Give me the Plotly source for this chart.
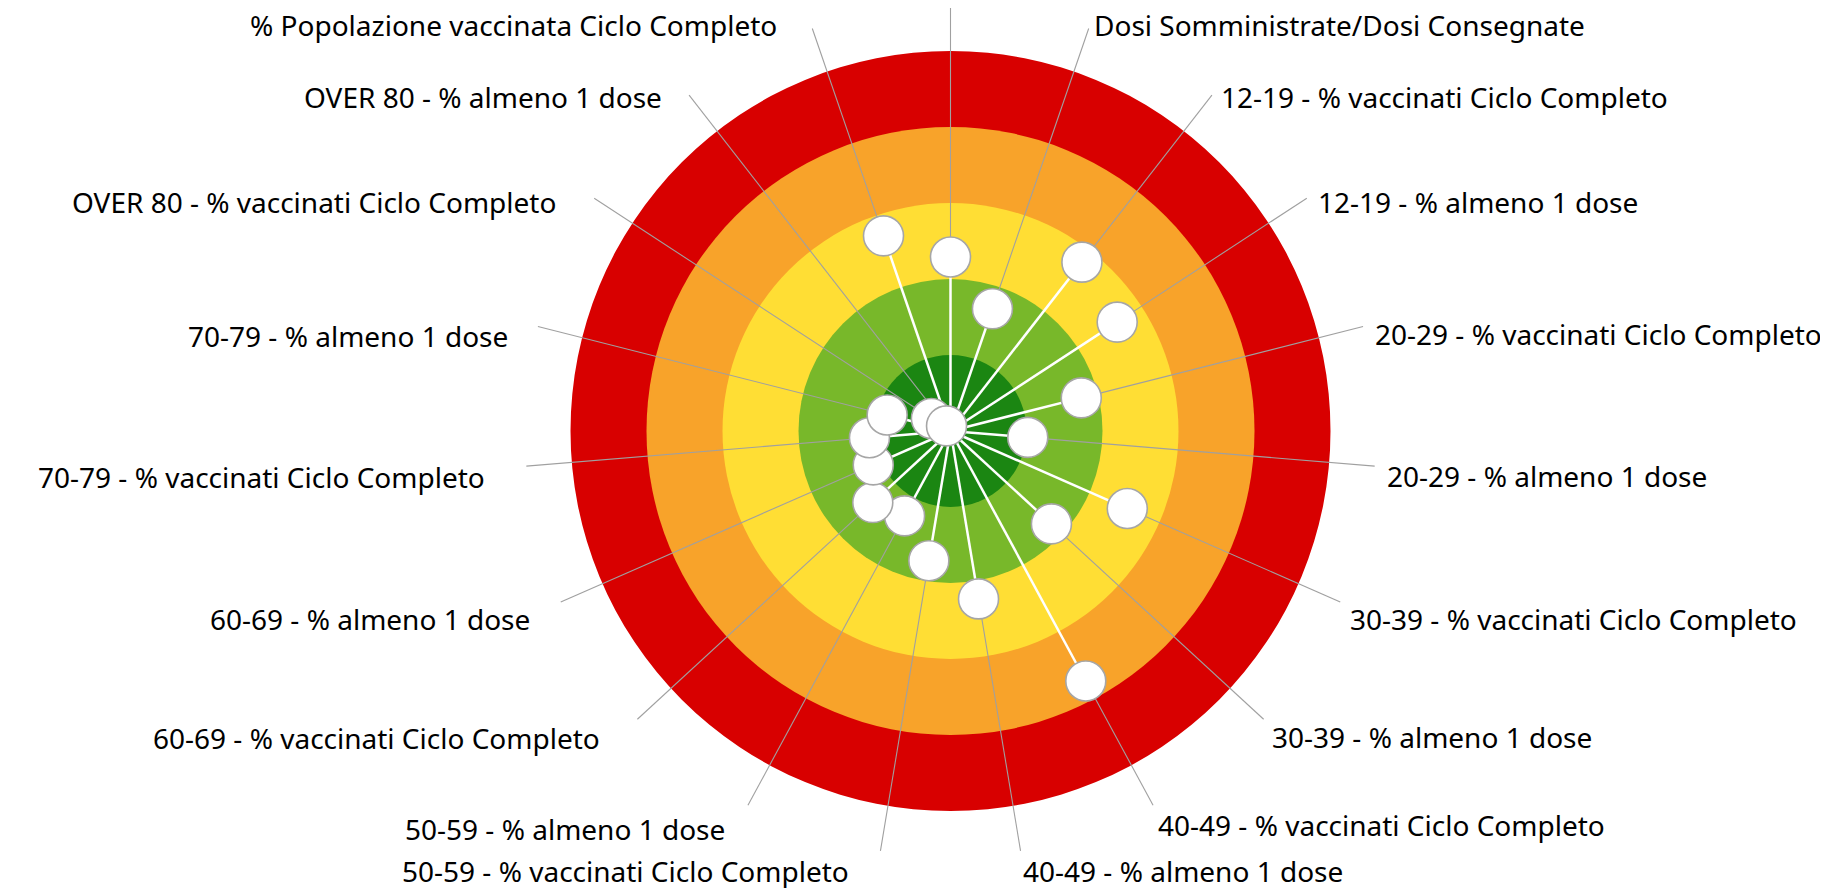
import numpy as np
import plotly.graph_objects as go

# categories clockwise from the top (the first spoke has no visible label)
labels = [
    "",
    "Dosi Somministrate/Dosi Consegnate",
    "12-19 - % vaccinati Ciclo Completo",
    "12-19 - % almeno 1 dose",
    "20-29 - % vaccinati Ciclo Completo",
    "20-29 - % almeno 1 dose",
    "30-39 - % vaccinati Ciclo Completo",
    "30-39 - % almeno 1 dose",
    "40-49 - % vaccinati Ciclo Completo",
    "40-49 - % almeno 1 dose",
    "50-59 - % vaccinati Ciclo Completo",
    "50-59 - % almeno 1 dose",
    "60-69 - % vaccinati Ciclo Completo",
    "60-69 - % almeno 1 dose",
    "70-79 - % vaccinati Ciclo Completo",
    "70-79 - % almeno 1 dose",
    "OVER 80 - % vaccinati Ciclo Completo",
    "OVER 80 - % almeno 1 dose",
    "% Popolazione vaccinata Ciclo Completo",
]
values = [45.8, 34.0, 56.3, 52.4, 35.5, 20.4, 50.8, 36.1, 74.8, 44.8,
          34.6, 25.4, 27.8, 22.2, 21.4, 17.2, 6.0, 1.7, 54.3]

# background rings (outer edge of each band)
band_edges = [100, 80, 60, 40, 20]
band_colors = ["#D80000", "#F8A32A", "#FFDE34", "#78B82A", "#1B8612"]

# label placement: pixel offset of the text from the end of its leader line
label_dx = [0, 4, 8, 10, 11, 11, 9, 7, 4, 1,
            -30, -22, -36, -30, -40, -29, -37, -26, -34]
label_dy = [0, -3, 2, 4, 7, 10, 17, 18, 20, 20,
            20, 24, 19, 17, 11, 9, 4, 2, -3]

W, H = 1828, 888
PAGE_PAD = 8          # the page body margin shifts the figure
CX, CY = 950.5 - PAGE_PAD, 431 - PAGE_PAD   # chart centre in figure pixels
PX = 3.8              # pixels per radial unit (100 -> 380 px)
LEAD_R = 112          # leader lines end a bit outside the red ring

n = len(values)
theta = np.radians(np.arange(n) * 360 / n)   # clockwise from 12 o'clock
sin_t, cos_t = np.sin(theta), np.cos(theta)
vals = np.array(values)

fig = go.Figure()

# rings, largest first
for edge, col in zip(band_edges, band_colors):
    fig.add_shape(type='circle', xref='x', yref='y',
                  x0=-edge, y0=-edge, x1=edge, y1=edge,
                  fillcolor=col, line=dict(width=0), layer='below')

# grey leader lines from each point out to its label
lx, ly = [], []
for v, s, c in zip(vals, sin_t, cos_t):
    lx += [v * s, LEAD_R * s, None]
    ly += [v * c, LEAD_R * c, None]
fig.add_trace(go.Scatter(
    x=lx, y=ly, mode='lines',
    line=dict(color='#A0A0A0', width=1.1),
    hoverinfo='skip', showlegend=False
))

# white spokes from the centre
sx, sy = [], []
for v, s, c in zip(vals, sin_t, cos_t):
    sx += [0, v * s, None]
    sy += [0, v * c, None]
fig.add_trace(go.Scatter(
    x=sx, y=sy, mode='lines',
    line=dict(color='white', width=2.5),
    hoverinfo='skip', showlegend=False
))

# points
fig.add_trace(go.Scatter(
    x=vals * sin_t, y=vals * cos_t, mode='markers',
    marker=dict(size=40, color='white', line=dict(color='#A6A6A6', width=1.6)),
    text=labels, customdata=vals,
    hovertemplate='%{text}: %{customdata}<extra></extra>',
    showlegend=False
))

# labels
for i, lab in enumerate(labels):
    if not lab:
        continue
    ax = LEAD_R * sin_t[i] + label_dx[i] / PX
    ay = LEAD_R * cos_t[i] - label_dy[i] / PX
    fig.add_annotation(
        x=ax, y=ay, xref='x', yref='y', text=lab, showarrow=False,
        xanchor='left' if sin_t[i] > 0 else 'right', yanchor='middle',
        font=dict(family='Noto Sans', size=28, color='#000000'),
        borderpad=0
    )

fig.update_layout(
    width=W, height=H,
    margin=dict(l=0, r=0, t=0, b=0),
    paper_bgcolor='white', plot_bgcolor='white',
    showlegend=False,
    xaxis=dict(range=[-CX / PX, (W - CX) / PX], visible=False, fixedrange=True),
    yaxis=dict(range=[-(H - CY) / PX, CY / PX], visible=False, fixedrange=True),
)

fig.write_html("out.html")
